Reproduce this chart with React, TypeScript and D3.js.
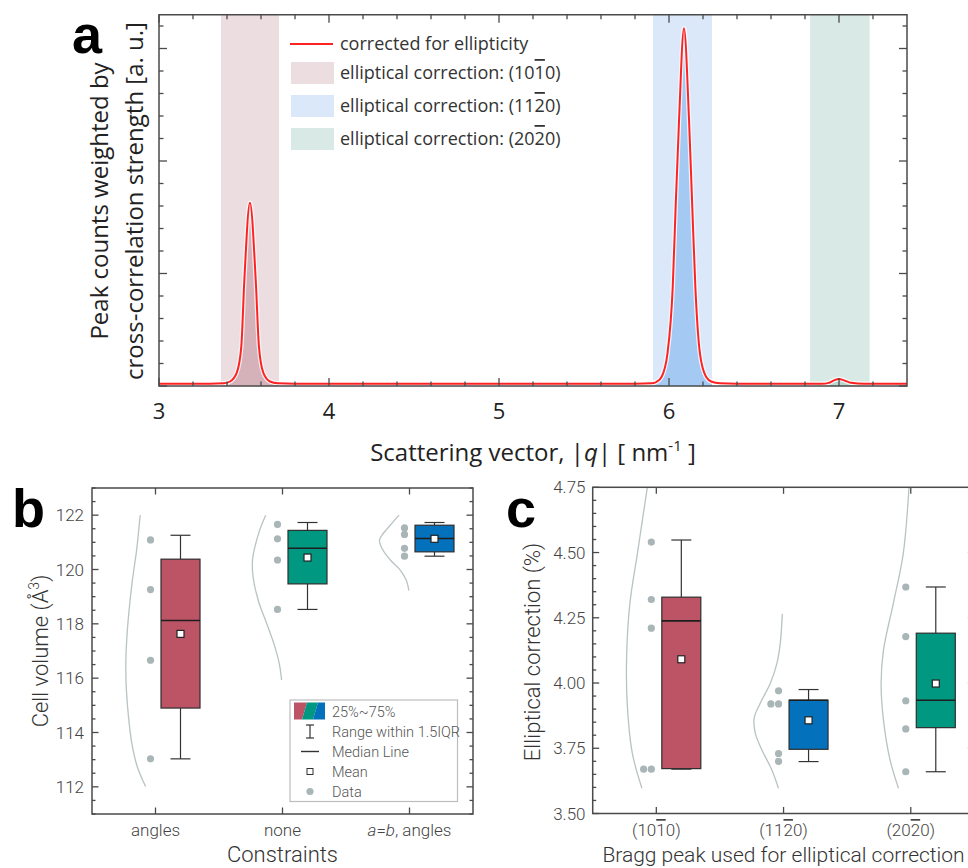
import React, { useEffect, useRef } from 'react';
import * as d3 from 'd3';

// ---------- panel a : peak counts vs |q| ----------
const qValues = [3.0, 3.3, 3.38, 3.418, 3.457, 3.484, 3.502, 3.535, 3.569, 3.588, 3.614, 3.653, 3.7, 3.8,
  5.8, 5.9, 5.928, 5.957, 5.991, 6.022, 6.039, 6.059, 6.088, 6.118, 6.137, 6.155, 6.182, 6.218, 6.251, 6.3, 6.4,
  6.9, 6.94, 6.97, 7.0, 7.03, 7.07, 7.15, 7.4];
const peakCounts = [0.1, 0.1, 0.12, 0.2, 0.58, 1.75, 4.71, 8.15, 4.71, 1.75, 0.58, 0.2, 0.12, 0.1,
  0.1, 0.12, 0.19, 0.41, 1.45, 4.41, 7.95, 11.8, 15.9, 11.8, 7.95, 4.41, 1.45, 0.41, 0.19, 0.12, 0.1,
  0.1, 0.14, 0.25, 0.31, 0.25, 0.14, 0.1, 0.1];

// elliptical correction windows (in nm^-1) and their Miller-Bravais indices
const bandLow = [3.365, 5.906, 6.83];
const bandHigh = [3.706, 6.253, 7.18];
const millerIndices = [[1, 0, -1, 0], [1, 1, -2, 0], [2, 0, -2, 0]];
const bandColors = ['#ecdde1', '#dae8f9', '#d9e9e5'];
const peakFills = ['#d5b2b9', '#a4caf3', '#b8d6cd'];

// ---------- panel b : cell volume per constraint ----------
const constraintLabels = ['angles', 'none', 'a=b, angles'];
const volumeData = [
  [121.09, 119.26, 116.66, 113.03],
  [121.66, 121.13, 120.35, 118.53],
  [121.53, 121.29, 120.78, 120.49],
];
const volumeLow = [113.03, 118.53, 120.49];
const volumeQ1 = [114.9, 119.47, 120.65];
const volumeMedian = [118.12, 120.78, 121.14];
const volumeQ3 = [120.38, 121.44, 121.63];
const volumeHigh = [121.26, 121.73, 121.73];
const volumeMean = [117.63, 120.44, 121.13];
// normal-fit outlines: [value, relative width]
const volumeCurves = [
  [[122.0, 0.51], [120.71, 0.63], [119.61, 0.77], [118.51, 0.88], [117.4, 0.96], [116.42, 0.99], [115.57, 0.97], [114.58, 0.9], [113.61, 0.79], [112.75, 0.61], [112.01, 0.33]],
  [[122.0, 0.56], [121.45, 0.76], [120.83, 0.92], [120.35, 1.0], [119.73, 0.98], [118.87, 0.81], [118.02, 0.53], [117.28, 0.29], [116.55, 0.11], [115.93, 0.03]],
  [[122.0, 0.35], [121.63, 0.64], [121.26, 0.92], [121.08, 1.0], [120.78, 0.92], [120.35, 0.64], [119.98, 0.31], [119.61, 0.11], [119.22, 0.02]],
];

// ---------- panel c : elliptical correction per Bragg peak ----------
const correctionData = [
  [4.54, 4.32, 4.21, 3.67, 3.67],
  [3.97, 3.92, 3.92, 3.73, 3.70],
  [4.368, 4.178, 3.932, 3.824, 3.66],
];
const correctionLow = [3.67, 3.699, 3.66];
const correctionQ1 = [3.672, 3.746, 3.829];
const correctionMedian = [4.238, 3.934, 3.934];
const correctionQ3 = [4.329, 3.934, 4.191];
const correctionHigh = [4.548, 3.975, 4.368];
const correctionMean = [4.091, 3.857, 3.998];
const correctionCurves = [
  [[4.75, 0.3], [4.497, 0.63], [4.306, 0.88], [4.101, 0.99], [3.922, 0.97], [3.731, 0.8], [3.597, 0.48]],
  [[4.265, 0.04], [4.152, 0.11], [4.076, 0.22], [3.999, 0.44], [3.922, 0.78], [3.865, 0.98], [3.807, 0.94], [3.743, 0.72], [3.667, 0.39], [3.597, 0.17]],
  [[4.75, 0.06], [4.497, 0.25], [4.306, 0.58], [4.127, 0.91], [3.999, 0.99], [3.858, 0.91], [3.705, 0.69], [3.597, 0.41]],
];

const boxColorsB = ['#bc5466', '#019882', '#0371bb'];
const boxColorsC = ['#bc5466', '#0371bb', '#019882'];

const FONT_A = "'Open Sans', 'Noto Sans', sans-serif";
const FONT_B = "Roboto, 'Noto Sans', sans-serif";
const FONT_LETTER = "'Liberation Sans', Arial, sans-serif";
const AXIS = '#4a4a4a';

// write "(10-10)" style indices with an overbar on negative ones
const writeMiller = (sel: any, idx: number[]) => {
  sel.append('tspan').text('(');
  idx.forEach(n => {
    const t = sel.append('tspan').text(String(Math.abs(n)));
    if (n < 0) t.style('text-decoration', 'overline');
  });
  sel.append('tspan').text(')');
};

// frame with inward ticks on all four sides
const drawFrame = (g: any, x: any, y: any, xMajor: number[], xMinor: number[], yMajor: number[], yMinor: number[], majorLen: number, minorLen: number) => {
  const [x0, x1] = x.range();
  const [y0, y1] = y.range(); // y0 = bottom
  g.append('rect')
    .attr('x', x0).attr('y', y1)
    .attr('width', x1 - x0).attr('height', y0 - y1)
    .attr('fill', 'none').attr('stroke', AXIS).attr('stroke-width', 1.5);
  const tick = (x1a: number, y1a: number, x2a: number, y2a: number) =>
    g.append('line').attr('x1', x1a).attr('y1', y1a).attr('x2', x2a).attr('y2', y2a)
      .attr('stroke', AXIS).attr('stroke-width', 1.3);
  xMajor.forEach(v => { tick(x(v), y0, x(v), y0 - majorLen); tick(x(v), y1, x(v), y1 + majorLen); });
  xMinor.forEach(v => { tick(x(v), y0, x(v), y0 - minorLen); tick(x(v), y1, x(v), y1 + minorLen); });
  yMajor.forEach(v => { tick(x0, y(v), x0 + majorLen, y(v)); tick(x1, y(v), x1 - majorLen, y(v)); });
  yMinor.forEach(v => { tick(x0, y(v), x0 + minorLen, y(v)); tick(x1, y(v), x1 - minorLen, y(v)); });
};

// boxes, dots and distribution outlines for panels b and c
const drawBoxPanel = (g: any, cx: any, y: any, cats: string[], data: number[][], low: number[], q1: number[],
  med: number[], q3: number[], high: number[], mean: number[], curves: number[][][], colors: string[]) => {
  const boxOffset = 25, boxW = 39, capW = 20;
  const widthScale = d3.scaleLinear().domain([0, 1]).range([0, 30]);
  cats.forEach((c, i) => {
    const x0 = cx(c);
    // distribution outline
    const line = d3.line<number[]>()
      .x(d => x0 - widthScale(d[1]))
      .y(d => y(d[0]))
      .curve(d3.curveCatmullRom);
    g.append('path').datum(curves[i]).attr('d', line)
      .attr('fill', 'none').attr('stroke', '#b9c2c5').attr('stroke-width', 1.3);
    // data points, duplicates pushed left
    const seen: number[] = [];
    data[i].forEach(v => {
      const dup = seen.filter(s => Math.abs(s - v) < 0.005).length;
      seen.push(v);
      g.append('circle').attr('cx', x0 - 5 - dup * 7.7).attr('cy', y(v)).attr('r', 3.6).attr('fill', '#a9b5b6');
    });
    const bx = x0 + boxOffset;
    // whiskers
    g.append('line').attr('x1', bx).attr('x2', bx).attr('y1', y(high[i])).attr('y2', y(q3[i])).attr('stroke', '#333').attr('stroke-width', 1.2);
    g.append('line').attr('x1', bx).attr('x2', bx).attr('y1', y(q1[i])).attr('y2', y(low[i])).attr('stroke', '#333').attr('stroke-width', 1.2);
    [high[i], low[i]].forEach(v => {
      g.append('line').attr('x1', bx - capW / 2).attr('x2', bx + capW / 2).attr('y1', y(v)).attr('y2', y(v)).attr('stroke', '#333').attr('stroke-width', 1.2);
    });
    // box
    g.append('rect').attr('x', bx - boxW / 2).attr('y', y(q3[i])).attr('width', boxW)
      .attr('height', Math.max(1, y(q1[i]) - y(q3[i])))
      .attr('fill', colors[i]).attr('stroke', '#2e2e2e').attr('stroke-width', 1.2);
    g.append('line').attr('x1', bx - boxW / 2).attr('x2', bx + boxW / 2).attr('y1', y(med[i])).attr('y2', y(med[i]))
      .attr('stroke', '#1e1e1e').attr('stroke-width', 1.6);
    // mean
    g.append('rect').attr('x', bx - 3.5).attr('y', y(mean[i]) - 3.5).attr('width', 7).attr('height', 7)
      .attr('fill', '#fff').attr('stroke', '#222').attr('stroke-width', 1.2);
  });
};

const App = () => {
  const svgRef = useRef<SVGSVGElement>(null);

  useEffect(() => {
    const svg = d3.select(svgRef.current);
    svg.selectAll('*').remove();

    // ================= panel a =================
    const xa = d3.scaleLinear().domain([3, 7.4]).range([159, 907]);
    const ya = d3.scaleLinear().domain([0, 16.5]).range([386, 14.75]);
    const ga = svg.append('g');
    const spectrum = qValues.map((q, i) => [q, peakCounts[i]]);

    const defs = svg.append('defs');
    bandLow.forEach((lo, i) => {
      ga.append('rect').attr('x', xa(lo)).attr('y', ya(16.5)).attr('width', xa(bandHigh[i]) - xa(lo))
        .attr('height', ya(0) - ya(16.5)).attr('fill', bandColors[i]);
      defs.append('clipPath').attr('id', `band-${i}`)
        .append('rect').attr('x', xa(lo)).attr('y', 0).attr('width', xa(bandHigh[i]) - xa(lo)).attr('height', ya(0));
    });
    const area = d3.area<number[]>().x(d => xa(d[0])).y0(ya(0)).y1(d => ya(d[1])).curve(d3.curveMonotoneX);
    bandLow.forEach((_, i) => {
      ga.append('path').datum(spectrum).attr('d', area).attr('fill', peakFills[i]).attr('clip-path', `url(#band-${i})`);
    });
    const line = d3.line<number[]>().x(d => xa(d[0])).y(d => ya(d[1])).curve(d3.curveMonotoneX);
    ga.append('path').datum(spectrum).attr('d', line).attr('fill', 'none').attr('stroke', '#fff').attr('stroke-width', 4.5).attr('opacity', 0.8);
    ga.append('path').datum(spectrum).attr('d', line).attr('fill', 'none').attr('stroke', '#ff2222').attr('stroke-width', 2);

    drawFrame(ga, xa, ya, d3.range(3, 7.01, 1), d3.range(3.2, 7.4, 0.2).filter(v => Math.abs(v - Math.round(v)) > 0.01),
      [0, 5, 10, 15], d3.range(0, 16.5, 1).filter(v => v % 5 !== 0), 8, 4.5);

    d3.range(3, 7.01, 1).forEach(v => {
      ga.append('text').attr('x', xa(v)).attr('y', 419).attr('text-anchor', 'middle')
        .style('font-family', FONT_A).style('font-size', '22px').attr('fill', '#222').text(v);
    });

    const xTitle = ga.append('text').attr('x', 533).attr('y', 461).attr('text-anchor', 'middle')
      .style('font-family', FONT_A).style('font-size', '24px').attr('fill', '#222');
    xTitle.append('tspan').text('Scattering vector, |');
    xTitle.append('tspan').style('font-style', 'italic').text('q');
    xTitle.append('tspan').text('| [ nm');
    xTitle.append('tspan').attr('dy', -10).style('font-size', '15px').text('-1');
    xTitle.append('tspan').attr('dy', 10).text(' ]');

    ['Peak counts weighted by', 'cross-correlation strength [a. u.]'].forEach((t, i) => {
      ga.append('text').attr('transform', `translate(${108 + i * 35},201) rotate(-90)`).attr('text-anchor', 'middle')
        .style('font-family', FONT_A).style('font-size', '24px').attr('fill', '#222').text(t);
    });

    ga.append('text').attr('x', 72).attr('y', 53).style('font-family', FONT_LETTER).style('font-size', '54px')
      .style('font-weight', 700).attr('fill', '#000').text('a');

    // legend
    ga.append('line').attr('x1', 290).attr('x2', 333).attr('y1', 44).attr('y2', 44).attr('stroke', '#ff2222').attr('stroke-width', 1.8);
    ga.append('text').attr('x', 340).attr('y', 50).style('font-family', FONT_A).style('font-size', '18px').attr('fill', '#333')
      .text('corrected for ellipticity');
    millerIndices.forEach((idx, i) => {
      const cy = 73 + i * 33;
      ga.append('rect').attr('x', 291).attr('y', cy - 11).attr('width', 43).attr('height', 22).attr('fill', bandColors[i]);
      const t = ga.append('text').attr('x', 340).attr('y', cy + 6).style('font-family', FONT_A).style('font-size', '18px').attr('fill', '#333');
      t.append('tspan').text('elliptical correction: ');
      writeMiller(t, idx);
    });

    // ================= panel b =================
    const gb = svg.append('g');
    const xb = d3.scalePoint().domain(constraintLabels).range([92, 473]).padding(0.5);
    const yb = d3.scaleLinear().domain([111, 123]).range([814, 488]);
    const xbLin = d3.scaleLinear().domain([0, 1]).range([92, 473]);
    drawBoxPanel(gb, xb, yb, constraintLabels, volumeData, volumeLow, volumeQ1, volumeMedian, volumeQ3, volumeHigh, volumeMean, volumeCurves, boxColorsB);
    drawFrame(gb, xbLin, yb, [], [], d3.range(112, 123, 2), d3.range(111, 123.01, 0.5).filter(v => !(v % 2 === 0)), 6.5, 3.5);
    constraintLabels.forEach(c => {
      gb.append('line').attr('x1', xb(c)).attr('x2', xb(c)).attr('y1', 814).attr('y2', 807.5).attr('stroke', AXIS).attr('stroke-width', 1.3);
      gb.append('line').attr('x1', xb(c)).attr('x2', xb(c)).attr('y1', 488).attr('y2', 494.5).attr('stroke', AXIS).attr('stroke-width', 1.3);
    });
    d3.range(112, 123, 2).forEach(v => {
      gb.append('text').attr('x', 84).attr('y', yb(v) + 6).attr('text-anchor', 'end')
        .style('font-family', FONT_B).style('font-weight', 300).style('font-size', '17px').attr('fill', '#444').text(v);
    });
    constraintLabels.forEach(c => {
      const t = gb.append('text').attr('x', xb(c)).attr('y', 836).attr('text-anchor', 'middle')
        .style('font-family', FONT_B).style('font-weight', 300).style('font-size', '17px').attr('fill', '#444');
      if (c.startsWith('a=b')) {
        t.append('tspan').style('font-style', 'italic').text('a');
        t.append('tspan').text('=');
        t.append('tspan').style('font-style', 'italic').text('b');
        t.append('tspan').text(c.slice(3));
      } else t.text(c);
    });
    gb.append('text').attr('x', 282.5).attr('y', 862).attr('text-anchor', 'middle')
      .style('font-family', FONT_B).style('font-weight', 300).style('font-size', '22px').attr('fill', '#333').text('Constraints');
    const ybTitle = gb.append('text').attr('transform', 'translate(48,651) rotate(-90)').attr('text-anchor', 'middle')
      .style('font-family', FONT_B).style('font-weight', 300).style('font-size', '22px').attr('fill', '#333');
    ybTitle.append('tspan').text('Cell volume (Å');
    ybTitle.append('tspan').attr('dy', -9).style('font-size', '14px').text('3');
    ybTitle.append('tspan').attr('dy', 9).text(')');
    gb.append('text').attr('x', 12).attr('y', 527).style('font-family', FONT_LETTER).style('font-size', '54px')
      .style('font-weight', 700).attr('fill', '#000').text('b');

    // legend b
    const lg = gb.append('g');
    lg.append('rect').attr('x', 290).attr('y', 700).attr('width', 167.5).attr('height', 101.5)
      .attr('fill', '#fff').attr('stroke', '#bdbdbd').attr('stroke-width', 1.2);
    const sw = [[294, 307, 302, 294], [307, 318, 313, 302], [318, 325, 325, 313]];
    sw.forEach((p, i) => {
      lg.append('polygon').attr('points', `${p[0]},702.5 ${p[1]},702.5 ${p[2]},719.5 ${p[3]},719.5`).attr('fill', boxColorsB[i]);
    });
    lg.append('line').attr('x1', 310).attr('x2', 310).attr('y1', 725).attr('y2', 738).attr('stroke', '#333').attr('stroke-width', 1.2);
    [725, 738].forEach(yy => lg.append('line').attr('x1', 306).attr('x2', 314).attr('y1', yy).attr('y2', yy).attr('stroke', '#333').attr('stroke-width', 1.2));
    lg.append('line').attr('x1', 301).attr('x2', 319).attr('y1', 751.5).attr('y2', 751.5).attr('stroke', '#333').attr('stroke-width', 1.4);
    lg.append('rect').attr('x', 307).attr('y', 768.5).attr('width', 6).attr('height', 6).attr('fill', '#fff').attr('stroke', '#333').attr('stroke-width', 1);
    lg.append('circle').attr('cx', 310).attr('cy', 791.5).attr('r', 3.6).attr('fill', '#a9b5b6');
    ['25%~75%', 'Range within 1.5IQR', 'Median Line', 'Mean', 'Data'].forEach((t, i) => {
      lg.append('text').attr('x', 332).attr('y', 717 + i * 20).style('font-family', FONT_B).style('font-weight', 300)
        .style('font-size', '14.5px').attr('fill', '#555').text(t);
    });

    // ================= panel c =================
    const gc = svg.append('g');
    const peakKeys = millerIndices.map(m => m.join(','));
    const xc = d3.scalePoint().domain(peakKeys).range([592.7, 974.4]).padding(0.5);
    const yc = d3.scaleLinear().domain([3.5, 4.75]).range([813.5, 487.3]);
    const xcLin = d3.scaleLinear().domain([0, 1]).range([592.7, 974.4]);
    drawBoxPanel(gc, xc, yc, peakKeys, correctionData, correctionLow, correctionQ1, correctionMedian, correctionQ3, correctionHigh, correctionMean, correctionCurves, boxColorsC);
    const cMajor = d3.range(0, 6).map(i => 3.5 + i * 0.25);
    const cMinor = d3.range(0, 26).map(i => 3.5 + i * 0.05).filter((_, i) => i % 5 !== 0);
    drawFrame(gc, xcLin, yc, [], [], cMajor, cMinor, 6.5, 3.5);
    peakKeys.forEach(k => {
      gc.append('line').attr('x1', xc(k)).attr('x2', xc(k)).attr('y1', 813.5).attr('y2', 807).attr('stroke', AXIS).attr('stroke-width', 1.3);
      gc.append('line').attr('x1', xc(k)).attr('x2', xc(k)).attr('y1', 487.3).attr('y2', 493.8).attr('stroke', AXIS).attr('stroke-width', 1.3);
    });
    cMajor.forEach(v => {
      gc.append('text').attr('x', 585.5).attr('y', yc(v) + 6).attr('text-anchor', 'end')
        .style('font-family', FONT_B).style('font-weight', 300).style('font-size', '17px').attr('fill', '#444').text(v.toFixed(2));
    });
    millerIndices.forEach((idx, i) => {
      const t = gc.append('text').attr('x', xc(peakKeys[i])).attr('y', 836).attr('text-anchor', 'middle')
        .style('font-family', FONT_B).style('font-weight', 300).style('font-size', '17px').attr('fill', '#444');
      writeMiller(t, idx);
    });
    gc.append('text').attr('x', 783.5).attr('y', 862).attr('text-anchor', 'middle')
      .style('font-family', FONT_B).style('font-weight', 300).style('font-size', '21px').attr('fill', '#333')
      .text('Bragg peak used for elliptical correction');
    gc.append('text').attr('transform', 'translate(540,652) rotate(-90)').attr('text-anchor', 'middle')
      .style('font-family', FONT_B).style('font-weight', 300).style('font-size', '22px').attr('fill', '#333')
      .text('Elliptical correction (%)');
    gc.append('text').attr('x', 506).attr('y', 527).style('font-family', FONT_LETTER).style('font-size', '54px')
      .style('font-weight', 700).attr('fill', '#000').text('c');
  }, []);

  return (
    <svg ref={svgRef} width={968} height={868}
      style={{ position: 'absolute', left: 0, top: 0, background: '#fff' }} />
  );
};

export default App;
